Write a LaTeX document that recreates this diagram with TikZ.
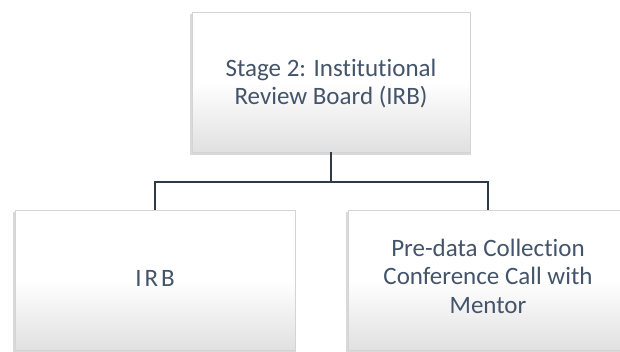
\documentclass[tikz,border=0pt]{standalone}
\usepackage{fontspec}
\setmainfont{Carlito}[Ligatures=NoCommon]
\usetikzlibrary{positioning}
\usetikzlibrary{shadows}
\definecolor{textslate}{HTML}{44546A}
\definecolor{linkslate}{HTML}{2F3A47}
\definecolor{boxedge}{HTML}{D4D4D4}
\tikzset{
	stagebox/.style={rectangle, draw=boxedge, line width=0.6pt, top color=white, bottom color=black!12, middle color=white,
		minimum width=280pt, minimum height=140pt,
		drop shadow={shadow xshift=-0.5pt, shadow yshift=-2.5pt, opacity=0.3, shadow scale=1.01}},
	stagetext/.style={text=textslate, font=\fontsize{25}{28.5}\selectfont, align=center, inner sep=0pt, anchor=base},
	link/.style={draw=linkslate, line width=2.1pt}
}

\begin{document}
\begin{tikzpicture}[x=1pt, y=-1pt]
	\useasboundingbox (0,0) rectangle (620,352);
	\clip (0,0) rectangle (620,352);
	% top stage
	\node[stagebox, minimum width=278pt] (stage) at (331,82) {};
	\node[stagetext] (stagelbl) at (331,105) {Stage 2: Institutional\\Review Board (IRB)};
	% children
	\node[stagebox] (irb) at (155,280) {};
	\node[stagetext] (irblbl) at (155,287) {\addfontfeature{LetterSpace=12}IRB};
	\node[stagebox] (call) at (488,280) {};
	\node[stagetext] (calllbl) at (488,313) {Pre-data Collection\\Conference Call with\\Mentor};
	\coordinate (split) at (331,182);
	\draw[link] (stage.south) -- (split);
	\draw[link] (irb.north) |- (split) -| (call.north);
\end{tikzpicture}
\end{document}
